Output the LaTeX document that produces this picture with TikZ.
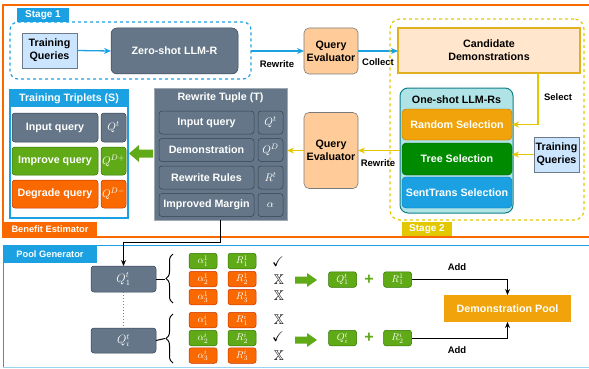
\documentclass[tikz,border=0pt]{standalone}
\usepackage[no-math]{fontspec}
\setmainfont{Liberation Sans}
\usepackage{amssymb}
\usetikzlibrary{arrows.meta,decorations.pathreplacing,calc}
\definecolor{cblue}{HTML}{1BA1E2}
\definecolor{corange}{HTML}{FA6800}
\definecolor{corangebd}{HTML}{C73500}
\definecolor{cgold}{HTML}{F0A30A}
\definecolor{cgoldbd}{HTML}{BD7000}
\definecolor{cyel}{HTML}{E3C800}
\definecolor{cgray}{HTML}{647687}
\definecolor{cgraybd}{HTML}{314354}
\definecolor{cgrayfr}{HTML}{A0A8B2}
\definecolor{cgreen}{HTML}{60A917}
\definecolor{cgreenbd}{HTML}{2D7600}
\definecolor{cdgreen}{HTML}{008A00}
\definecolor{cdgreenbd}{HTML}{005700}
\definecolor{cbluebd}{HTML}{006EAF}
\definecolor{clblue}{HTML}{CCE5FF}
\definecolor{cqbd}{HTML}{6C7A89}
\definecolor{cpeach}{HTML}{FFCC99}
\definecolor{cpeachbd}{HTML}{7A7A7A}
\definecolor{ccand}{HTML}{FFE6CC}
\definecolor{ccandbd}{HTML}{E0B020}
\definecolor{ccyan}{HTML}{B0E3E6}
\definecolor{cteal}{HTML}{0E8088}
\begin{document}
\begin{tikzpicture}[x=1pt,y=-1pt,
  every node/.style={inner sep=0pt, outer sep=0pt},
  tf/.style={font=\bfseries\fontsize{10.7}{12.8}\selectfont},
  lf/.style={font=\bfseries\fontsize{9.5}{11}\selectfont},
  tabf/.style={font=\bfseries\fontsize{9.3}{11}\selectfont, text=white},
  mf/.style={font=\fontsize{11}{13}\selectfont, text=white},
  graybox/.style={tf, fill=cgray, draw=cgraybd, rounded corners=3pt, text=white, line width=0.5pt},
  greenbox/.style={tf, fill=cgreen, draw=cgreenbd, rounded corners=3pt, text=white, line width=0.5pt},
  orangebox/.style={tf, fill=corange, draw=corangebd, rounded corners=3pt, text=white, line width=0.5pt},
  qbox/.style={tf, fill=clblue, draw=cqbd, line width=0.8pt, align=center},
  evalbox/.style={tf, fill=cpeach, draw=cpeachbd, rounded corners=5pt, line width=0.6pt, align=center},
  barrow/.style={cblue, line width=1.3pt, -{Stealth[length=7pt,width=6pt]}},
  yarrow/.style={cyel, line width=1.3pt, -{Stealth[length=7pt,width=6pt]}},
  karrow/.style={black, line width=1pt, -{Stealth[length=6pt,width=5pt]}},
  fatarrow/.style={fill=cgreen}
]
\useasboundingbox (0,0) rectangle (589,369);

% ---------- frames ----------
\draw[corange, line width=1.2pt] (589.5,5) -- (3,5) -- (3,237) -- (589.5,237);
\draw[cblue, line width=1pt] (589.5,245) -- (3,245) -- (3,367);
\draw[cblue!45, line width=1pt] (3,367) -- (589.5,367);

% ---------- Stage 1 ----------
\node[draw=cblue, dashed, line width=1.2pt, rounded corners=8pt, minimum width=241pt, minimum height=57pt] (s1box) at (130.5,50.5) {};
\node[tabf, fill=cblue, minimum width=52pt, minimum height=14pt, font=\bfseries\fontsize{10}{11}\selectfont] (s1tab) at (43,15) {Stage 1};
\node[qbox, minimum width=55pt, minimum height=35pt] (tq1) at (49.5,50.5) {Training\\Queries};
\node[graybox, rounded corners=6pt, minimum width=127pt, minimum height=46pt] (zs) at (174.5,51) {Zero-shot LLM-R};
\node[evalbox, minimum width=54pt, minimum height=46pt] (qe1) at (331,51) {Query\\Evaluator};
\node[tf, fill=ccand, draw=ccandbd, line width=1.2pt, align=center, minimum width=182pt, minimum height=45pt] (cand) at (489,50.5) {Candidate\\Demonstrations};

\draw[barrow] (tq1.east) -- (zs.west);
\draw[barrow] (s1box.east |- qe1.west) -- (qe1.west);
\node[lf] (lrw1) at (277,64) {Rewrite};
\draw[barrow] (qe1.east) -- (cand.west |- qe1.east);
\node[lf] (lcol) at (378,62) {Collect};

% ---------- Stage 2 ----------
\node[draw=cyel, dashed, line width=1.2pt, rounded corners=10pt, minimum width=194pt, minimum height=201pt] (s2box) at (487,119.5) {};
\node[tabf, fill=cyel, minimum width=50pt, minimum height=14pt, font=\bfseries\fontsize{10}{11}\selectfont] (s2tab) at (427,229) {Stage 2};
\node[fill=ccyan, draw=cteal, line width=1pt, rounded corners=8pt, minimum width=113pt, minimum height=125pt] (oneshot) at (456.5,150.5) {};
\node[tf] (ostitle) at (456.5,100) {One-shot LLM-Rs};
\node[tf, fill=cgold, draw=cgoldbd, text=white, rounded corners=4pt, minimum width=110pt, minimum height=31pt] (rand) at (457,124.5) {Random Selection};
\node[tf, fill=cdgreen, draw=cdgreenbd, text=white, rounded corners=4pt, minimum width=110pt, minimum height=32pt] (tree) at (457,159) {Tree Selection};
\node[tf, fill=cblue, draw=cbluebd, text=white, rounded corners=4pt, minimum width=110pt, minimum height=31pt] (sent) at (457,192.5) {SentTrans Selection};
\node[qbox, minimum width=45pt, minimum height=35pt] (tq2) at (556.5,154.5) {Training\\Queries};
\node[evalbox, minimum width=54pt, minimum height=76pt] (qe2) at (331,150.5) {Query\\Evaluator};

\draw[yarrow] (cand.south -| 538,0) -- (538,124.5) -- (rand.east);
\node[lf] (lsel) at (558,97) {Select};
\draw[yarrow] (tq2.west) -- (tree.east |- tq2.west);
\draw[yarrow] (oneshot.west) -- (qe2.east);
\node[lf] (lrw2) at (378,163) {Rewrite};

% ---------- Benefit estimator ----------
\node[fill=cgray, draw=cgrayfr, line width=1pt, minimum width=133pt, minimum height=132pt] (rt) at (220.5,154) {};
\node[tf, text=white] (rttitle) at (220.5,98) {Rewrite Tuple (T)};
\node[graybox, minimum width=95pt, minimum height=23pt] (rt1) at (206.5,122.5) {Input query};
\node[graybox, minimum width=95pt, minimum height=23pt] (rt2) at (206.5,150) {Demonstration};
\node[graybox, minimum width=95pt, minimum height=23pt] (rt3) at (206.5,177.5) {Rewrite Rules};
\node[graybox, minimum width=95pt, minimum height=23pt] (rt4) at (206.5,205) {Improved Margin};
\node[graybox, mf, minimum width=25pt, minimum height=23pt] (rm1) at (270.5,122.5) {$Q^t$};
\node[graybox, mf, minimum width=25pt, minimum height=23pt] (rm2) at (270.5,150) {$Q^D$};
\node[graybox, mf, minimum width=25pt, minimum height=23pt] (rm3) at (270.5,177.5) {$R^t$};
\node[graybox, mf, minimum width=25pt, minimum height=23pt] (rm4) at (270.5,205) {$\alpha$};

\node[fill=white, draw=cblue, line width=1.2pt, minimum width=118pt, minimum height=128pt] (tt) at (69,154) {};
\node[tabf, fill=cblue, minimum width=118pt, minimum height=17pt, font=\bfseries\fontsize{10.7}{12}\selectfont] (tttitle) at (69,98.5) {Training Triplets (S)};
\node[graybox, minimum width=86pt, minimum height=29pt] (tt1) at (55,127.5) {Input query};
\node[greenbox, minimum width=86pt, minimum height=28pt] (tt2) at (55,161) {Improve query};
\node[orangebox, minimum width=86pt, minimum height=28pt] (tt3) at (55,194) {Degrade query};
\node[graybox, mf, minimum width=25pt, minimum height=29pt] (tm1) at (113.5,127.5) {$Q^t$};
\node[greenbox, mf, minimum width=25pt, minimum height=28pt] (tm2) at (113.5,161) {$Q^{D+}$};
\node[orangebox, mf, minimum width=25pt, minimum height=28pt] (tm3) at (113.5,194) {$Q^{D-}$};

\coordinate (gtip) at (129,153.5);
\fill[fatarrow] (gtip) -- ++(10,-8.5) -- ++(0,4.5) -- ++(14,0) -- ++(0,8) -- ++(-14,0) -- ++(0,4.5) -- cycle;

\draw[yarrow] (qe2.west) -- (rt.east |- qe2.west);

\node[tabf, fill=corange, minimum width=94pt, minimum height=15pt] (betab) at (50,229.5) {Benefit Estimator};

% ---------- Pool generator ----------
\node[tabf, fill=cblue, minimum width=94pt, minimum height=18pt] (pgtab) at (50,254) {Pool Generator};
\node[graybox, mf, font=\fontsize{12}{13}\selectfont, minimum width=65pt, minimum height=26pt] (q1) at (123.5,279) {$Q_1^t$};
\node[graybox, mf, font=\fontsize{12}{13}\selectfont, minimum width=65pt, minimum height=25pt] (qi) at (123.5,340.5) {$Q_i^t$};
\draw[karrow] (rt.south -| 220,0) -- (220,242) -- (123.5,242) -- (q1.north);
\draw[gray, dotted, line width=1pt] (q1.south) -- (qi.north);

\coordinate (b1tip) at (165,279);
\coordinate (b2tip) at (165,338.5);
\draw[line width=1pt, decorate, decoration={brace, amplitude=7pt}] (173,303) -- (173,254);
\draw[line width=1pt, decorate, decoration={brace, amplitude=7pt}] (173,363) -- (173,314);
\draw[line width=1pt] (q1.east) -- (b1tip);
\draw[line width=1pt] (qi.east) -- (b2tip);

\tikzset{pbox/.style={mf, font=\fontsize{10}{11}\selectfont, minimum width=28pt, minimum height=15.5pt, rounded corners=2.5pt, line width=0.5pt}}
\node[pbox, fill=cgreen, draw=cgreenbd] (a11) at (203,261) {$\alpha_1^1$};
\node[pbox, fill=corange, draw=corangebd] (a21) at (203,279) {$\alpha_2^1$};
\node[pbox, fill=corange, draw=corangebd] (a31) at (203,297) {$\alpha_3^1$};
\node[pbox, fill=corange, draw=corangebd] (a1i) at (203,320) {$\alpha_1^i$};
\node[pbox, fill=cgreen, draw=cgreenbd] (a2i) at (203,338) {$\alpha_2^i$};
\node[pbox, fill=corange, draw=corangebd] (a3i) at (203,355.5) {$\alpha_3^i$};
\node[pbox, fill=cgreen, draw=cgreenbd] (r11) at (242,261) {$R_1^1$};
\node[pbox, fill=corange, draw=corangebd] (r21) at (242,279) {$R_2^1$};
\node[pbox, fill=corange, draw=corangebd] (r31) at (242,297) {$R_3^1$};
\node[pbox, fill=corange, draw=corangebd] (r1i) at (242,320) {$R_1^i$};
\node[pbox, fill=cgreen, draw=cgreenbd] (r2i) at (242,338) {$R_2^i$};
\node[pbox, fill=corange, draw=corangebd] (r3i) at (242,355.5) {$R_3^i$};

\tikzset{mk/.style={font=\fontsize{14}{14}\selectfont}}
\node[mk] (c1) at (278,262) {$\checkmark$};
\node[mk] (x2) at (279,280) {$\mathbb{X}$};
\node[mk] (x3) at (279,296) {$\mathbb{X}$};
\node[mk] (x4) at (279,320) {$\mathbb{X}$};
\node[mk] (c5) at (278,337) {$\checkmark$};
\node[mk] (x6) at (279,356) {$\mathbb{X}$};

\coordinate (g1) at (317,280);
\coordinate (g2) at (317,340);
\fill[fatarrow] (g1) -- ++(-10,-7) -- ++(0,3.5) -- ++(-12,0) -- ++(0,7) -- ++(12,0) -- ++(0,3.5) -- cycle;
\fill[fatarrow] (g2) -- ++(-10,-7) -- ++(0,3.5) -- ++(-12,0) -- ++(0,7) -- ++(12,0) -- ++(0,3.5) -- cycle;

\node[pbox, fill=cgreen, draw=cgreenbd] (sq1) at (342.5,279.5) {$Q_1^t$};
\node[text=cgreen, font=\bfseries\fontsize{16}{16}\selectfont] (p1) at (369,279.5) {+};
\node[pbox, fill=cgreen, draw=cgreenbd] (sr1) at (397.5,279.5) {$R_1^1$};
\node[pbox, fill=cgreen, draw=cgreenbd] (sq2) at (342.5,338) {$Q_i^t$};
\node[text=cgreen, font=\bfseries\fontsize{16}{16}\selectfont] (p2) at (369,338) {+};
\node[pbox, fill=cgreen, draw=cgreenbd] (sr2) at (397.5,338) {$R_2^i$};

\node[tf, fill=cgold, text=white, minimum width=127pt, minimum height=27pt] (pool) at (507.5,308.5) {Demonstration Pool};
\draw[karrow] (sr1.east) -- (sr1.east -| pool.north) -- (pool.north);
\draw[karrow] (sr2.east) -- (sr2.east -| pool.south) -- (pool.south);
\node[lf] (add1) at (457,267) {Add};
\node[lf] (add2) at (457,350) {Add};
\end{tikzpicture}
\end{document}
